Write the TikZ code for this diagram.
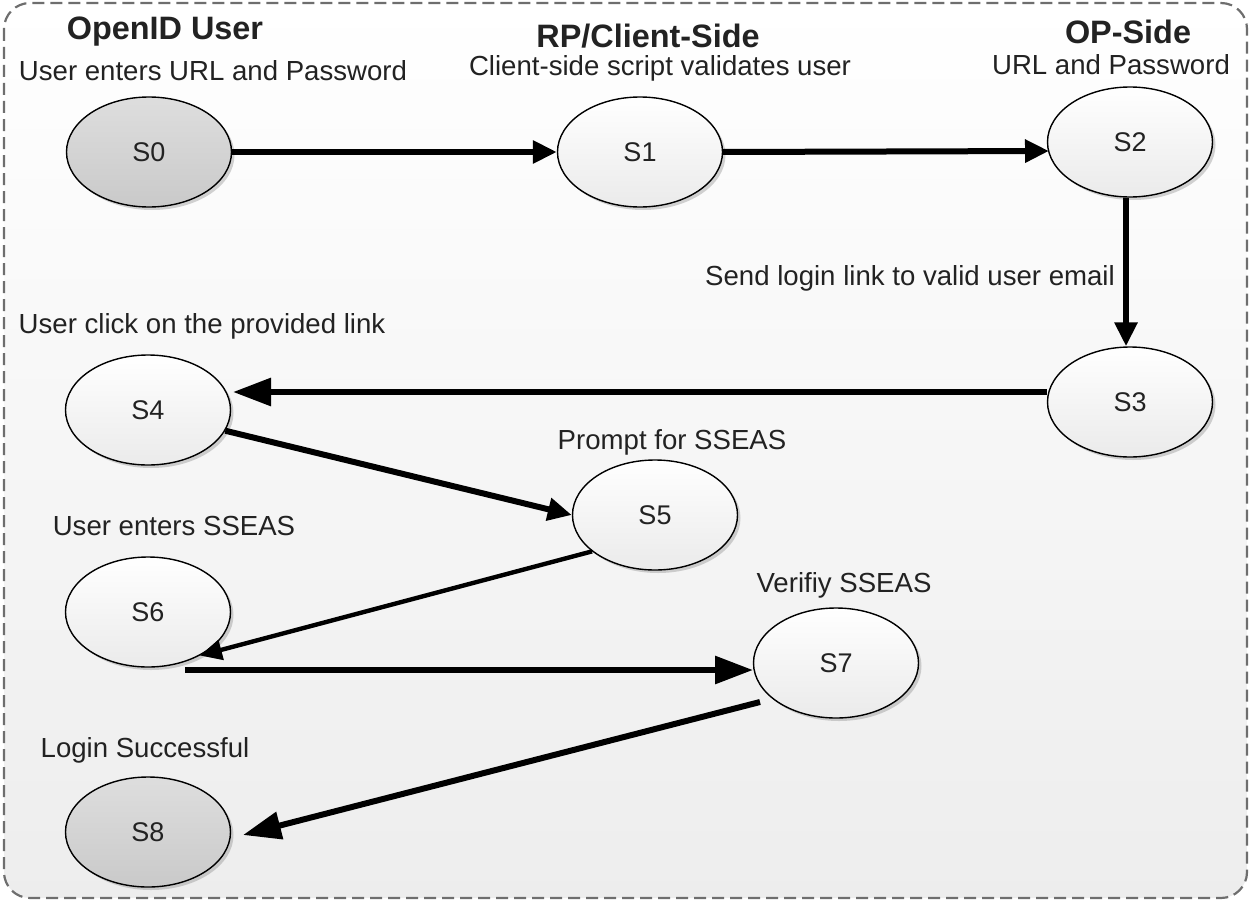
\documentclass[tikz,border=0pt]{standalone}
\usepackage{fontspec}
\setmainfont{Liberation Sans}
\usetikzlibrary{shapes.geometric,arrows.meta,shadows,calc}
\definecolor{bordergray}{HTML}{6E6E6E}
\definecolor{txtgray}{HTML}{222222}
\begin{document}
\begin{tikzpicture}[x=0.5pt,y=-0.5pt,
  state/.style={ellipse,draw=black,line width=0.7pt,minimum width=82.5pt,minimum height=55pt,inner sep=0pt,
    top color=white,bottom color=white!92!black,font=\fontsize{13.5}{15}\selectfont,text=txtgray,
    drop shadow={opacity=0.35,shadow xshift=1.5pt,shadow yshift=-1.5pt}},
  endstate/.style={state,top color=white!87!black,bottom color=white!79!black},
  title/.style={font=\fontsize{16.2}{19}\bfseries\selectfont,text=txtgray},
  lbl/.style={font=\fontsize{13.8}{16}\selectfont,text=txtgray},
  conn/.style={line width=3pt,-{Triangle[length=12pt,width=11pt]}},
  bigconn/.style={line width=3pt,-{Triangle[length=19pt,width=13.5pt]}},
  thinconn/.style={line width=2.2pt,-{Triangle[length=11pt,width=10pt]}}]
\useasboundingbox (0,0) rectangle (1251,904);
\draw[bordergray,line width=1.1pt,dash pattern=on 6pt off 3pt,rounded corners=13pt,top color=white,bottom color=white!93!black]
  (4,3) rectangle (1247,898);

\node[title] (tOpen) at (165,32) {OpenID User};
\node[lbl] (sOpen) at (213,71) {User enters URL and Password};
\node[title] (tRP) at (648,36) {RP/Client-Side};
\node[lbl] (sRP) at (660,68) {Client-side script validates user};
\node[title] (tOP) at (1128,32) {OP-Side};
\node[lbl] (sOP) at (1111,65) {URL and Password};
\node[lbl] (lSend) at (910,278) {Send login link to valid user email};
\node[lbl] (lClick) at (202,326) {User click on the provided link};
\node[lbl] (lPrompt) at (672,442) {Prompt for SSEAS};
\node[lbl] (lEnter) at (174,526) {User enters SSEAS};
\node[lbl] (lVer) at (844,585) {Verifiy SSEAS};
\node[lbl] (lLogin) at (145,750) {Login Successful};

\node[endstate] (S0) at (149,152) {S0};
\node[state] (S1) at (640,152) {S1};
\node[state] (S2) at (1130,142) {S2};
\node[state] (S3) at (1130,402) {S3};
\node[state] (S4) at (148,410) {S4};
\node[state] (S5) at (655,515) {S5};
\node[state] (S6) at (148,612) {S6};
\node[state] (S7) at (836,663) {S7};
\node[endstate] (S8) at (148,832) {S8};

\coordinate (c6a) at (185,670);
\coordinate (c7a) at (753,670);
\coordinate (c7b) at (760,702);
\coordinate (c8b) at (243,835);
\coordinate (c2in) at (1049,151);

\draw[conn] (S0.east) -- (S1.west);
\draw[conn] (S1.east) -- (c2in);
\draw[conn] ([xshift=-2pt]S2.south) -- ([xshift=-2pt]S3.north);
\draw[bigconn] (S3.west |- 0,392) -- (233,392);
\draw[conn] (S4.-15) -- (S5.west);
\draw[thinconn] (S5.-150) -- (S6.-40);
\draw[bigconn] (c6a) -- (c7a);
\draw[bigconn] (c7b) -- (c8b);
\end{tikzpicture}
\end{document}
